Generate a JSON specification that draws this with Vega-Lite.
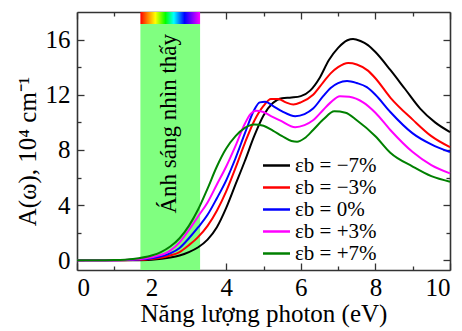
{
  "$schema": "https://vega.github.io/schema/vega-lite/v6.json",
  "autosize": {"type": "none"},
  "padding": {"left": 77, "top": 12, "right": 12, "bottom": 61},
  "width": 373,
  "height": 258,
  "config": {
    "view": {"stroke": null},
    "font": "Liberation Serif",
    "axis": {
      "grid": false,
      "labelFont": "Liberation Serif",
      "labelFontSize": 25,
      "labelColor": "black",
      "titleFont": "Liberation Serif",
      "titleFontSize": 24,
      "titleFontWeight": "normal",
      "titleColor": "black",
      "tickColor": "#333",
      "tickWidth": 1.3,
      "domainColor": "#333",
      "domainWidth": 1.6,
      "zindex": 1
    },
    "legend": {
      "labelFont": "Liberation Serif",
      "labelFontSize": 21,
      "labelColor": "black"
    }
  },
  "layer": [
    {
      "data": {"values": [{"e1": 1.7, "e2": 3.3, "a1": -0.7, "a2": 17.13}]},
      "mark": {"type": "rect", "color": "#80ff80"},
      "encoding": {
        "x": {"field": "e1", "type": "quantitative", "scale": {"domain": [0, 10], "nice": false},
          "axis": {"orient": "bottom", "values": [0, 2, 4, 6, 8, 10], "tickSize": -7, "labelPadding": 12, "title": "Năng lượng photon (eV)", "titleFontSize": 25, "titlePadding": 1, "domain": true}},
        "x2": {"field": "e2"},
        "y": {"field": "a1", "type": "quantitative", "scale": {"domain": [-0.7, 18], "nice": false, "zero": false},
          "axis": {"orient": "left", "values": [0, 4, 8, 12, 16], "tickSize": -7, "labelPadding": 14, "title": "A(ω), 10⁴ cm⁻¹", "titleFontSize": 25, "titlePadding": 5, "titleY": 139, "domain": true}},
        "y2": {"field": "a2"}
      }
    },
    {
      "data": {"values": [{"e1": 1.7, "e2": 3.3, "a1": 17.13, "a2": 18}]},
      "mark": {"type": "rect", "color": {"gradient": "linear", "x1": 0, "y1": 0, "x2": 1, "y2": 0,
        "stops": [
          {"offset": 0, "color": "#ff0000"},
          {"offset": 0.12, "color": "#ff8000"},
          {"offset": 0.25, "color": "#ffff00"},
          {"offset": 0.42, "color": "#00ff00"},
          {"offset": 0.56, "color": "#00ffff"},
          {"offset": 0.74, "color": "#0000ff"},
          {"offset": 0.87, "color": "#8000ff"},
          {"offset": 1, "color": "#ff00ff"}
        ]}},
      "encoding": {
        "x": {"field": "e1", "type": "quantitative", "scale": {"domain": [0, 10], "nice": false},
          "axis": {"orient": "top", "values": [0, 2, 4, 6, 8, 10], "tickSize": -7, "labels": false, "title": null, "domain": true}},
        "x2": {"field": "e2"},
        "y": {"field": "a1", "type": "quantitative", "scale": {"domain": [-0.7, 18], "nice": false, "zero": false},
          "axis": {"orient": "right", "values": [0, 4, 8, 12, 16], "tickSize": -7, "labels": false, "title": null, "domain": true}},
        "y2": {"field": "a2"}
      }
    },
    {
      "data": {"values": [
        {"s": "εb = −7%", "e": 0, "a": 0}, {"s": "εb = −7%", "e": 1, "a": 0}, {"s": "εb = −7%", "e": 1.5, "a": 0.01}, {"s": "εb = −7%", "e": 2, "a": 0.05}, {"s": "εb = −7%", "e": 2.5, "a": 0.2}, {"s": "εb = −7%", "e": 2.75, "a": 0.35}, {"s": "εb = −7%", "e": 3, "a": 0.6}, {"s": "εb = −7%", "e": 3.25, "a": 0.95}, {"s": "εb = −7%", "e": 3.5, "a": 1.5}, {"s": "εb = −7%", "e": 3.75, "a": 2.4}, {"s": "εb = −7%", "e": 4, "a": 3.8}, {"s": "εb = −7%", "e": 4.25, "a": 5.5}, {"s": "εb = −7%", "e": 4.5, "a": 7.2}, {"s": "εb = −7%", "e": 4.75, "a": 9.0}, {"s": "εb = −7%", "e": 5, "a": 10.5}, {"s": "εb = −7%", "e": 5.25, "a": 11.4}, {"s": "εb = −7%", "e": 5.5, "a": 11.75}, {"s": "εb = −7%", "e": 5.75, "a": 11.8}, {"s": "εb = −7%", "e": 6, "a": 11.9}, {"s": "εb = −7%", "e": 6.25, "a": 12.3}, {"s": "εb = −7%", "e": 6.5, "a": 13.2}, {"s": "εb = −7%", "e": 6.75, "a": 14.5}, {"s": "εb = −7%", "e": 7, "a": 15.4}, {"s": "εb = −7%", "e": 7.25, "a": 15.95}, {"s": "εb = −7%", "e": 7.4, "a": 16.05}, {"s": "εb = −7%", "e": 7.6, "a": 15.9}, {"s": "εb = −7%", "e": 7.8, "a": 15.6}, {"s": "εb = −7%", "e": 8, "a": 15.1}, {"s": "εb = −7%", "e": 8.4, "a": 13.8}, {"s": "εb = −7%", "e": 8.8, "a": 12.4}, {"s": "εb = −7%", "e": 9.2, "a": 11.0}, {"s": "εb = −7%", "e": 9.6, "a": 10.0}, {"s": "εb = −7%", "e": 10, "a": 9.3},
        {"s": "εb = −3%", "e": 0, "a": 0}, {"s": "εb = −3%", "e": 1, "a": 0}, {"s": "εb = −3%", "e": 1.5, "a": 0.02}, {"s": "εb = −3%", "e": 2, "a": 0.1}, {"s": "εb = −3%", "e": 2.5, "a": 0.35}, {"s": "εb = −3%", "e": 2.75, "a": 0.6}, {"s": "εb = −3%", "e": 3, "a": 1.1}, {"s": "εb = −3%", "e": 3.25, "a": 1.7}, {"s": "εb = −3%", "e": 3.5, "a": 2.5}, {"s": "εb = −3%", "e": 3.75, "a": 3.6}, {"s": "εb = −3%", "e": 4, "a": 5.0}, {"s": "εb = −3%", "e": 4.25, "a": 6.7}, {"s": "εb = −3%", "e": 4.5, "a": 8.5}, {"s": "εb = −3%", "e": 4.75, "a": 10.1}, {"s": "εb = −3%", "e": 5, "a": 11.2}, {"s": "εb = −3%", "e": 5.2, "a": 11.7}, {"s": "εb = −3%", "e": 5.4, "a": 11.7}, {"s": "εb = −3%", "e": 5.6, "a": 11.45}, {"s": "εb = −3%", "e": 5.8, "a": 11.3}, {"s": "εb = −3%", "e": 6, "a": 11.45}, {"s": "εb = −3%", "e": 6.33, "a": 12.0}, {"s": "εb = −3%", "e": 6.6, "a": 12.9}, {"s": "εb = −3%", "e": 6.8, "a": 13.55}, {"s": "εb = −3%", "e": 7, "a": 14.0}, {"s": "εb = −3%", "e": 7.27, "a": 14.3}, {"s": "εb = −3%", "e": 7.5, "a": 14.2}, {"s": "εb = −3%", "e": 7.8, "a": 13.75}, {"s": "εb = −3%", "e": 8, "a": 13.2}, {"s": "εb = −3%", "e": 8.4, "a": 11.8}, {"s": "εb = −3%", "e": 9, "a": 10.2}, {"s": "εb = −3%", "e": 9.5, "a": 9.0}, {"s": "εb = −3%", "e": 10, "a": 8.2},
        {"s": "εb = 0%", "e": 0, "a": 0}, {"s": "εb = 0%", "e": 1, "a": 0.01}, {"s": "εb = 0%", "e": 1.5, "a": 0.04}, {"s": "εb = 0%", "e": 2, "a": 0.15}, {"s": "εb = 0%", "e": 2.5, "a": 0.5}, {"s": "εb = 0%", "e": 2.75, "a": 0.9}, {"s": "εb = 0%", "e": 3, "a": 1.6}, {"s": "εb = 0%", "e": 3.25, "a": 2.4}, {"s": "εb = 0%", "e": 3.5, "a": 3.3}, {"s": "εb = 0%", "e": 3.75, "a": 4.5}, {"s": "εb = 0%", "e": 4, "a": 5.8}, {"s": "εb = 0%", "e": 4.25, "a": 7.4}, {"s": "εb = 0%", "e": 4.5, "a": 9.2}, {"s": "εb = 0%", "e": 4.75, "a": 10.9}, {"s": "εb = 0%", "e": 4.9, "a": 11.45}, {"s": "εb = 0%", "e": 5.05, "a": 11.5}, {"s": "εb = 0%", "e": 5.25, "a": 11.2}, {"s": "εb = 0%", "e": 5.5, "a": 10.8}, {"s": "εb = 0%", "e": 5.85, "a": 10.45}, {"s": "εb = 0%", "e": 6.1, "a": 10.6}, {"s": "εb = 0%", "e": 6.33, "a": 11.0}, {"s": "εb = 0%", "e": 6.6, "a": 11.9}, {"s": "εb = 0%", "e": 6.8, "a": 12.5}, {"s": "εb = 0%", "e": 7, "a": 12.85}, {"s": "εb = 0%", "e": 7.24, "a": 13.0}, {"s": "εb = 0%", "e": 7.5, "a": 12.85}, {"s": "εb = 0%", "e": 7.77, "a": 12.55}, {"s": "εb = 0%", "e": 8, "a": 12.0}, {"s": "εb = 0%", "e": 8.4, "a": 10.75}, {"s": "εb = 0%", "e": 9, "a": 9.2}, {"s": "εb = 0%", "e": 9.5, "a": 8.4}, {"s": "εb = 0%", "e": 10, "a": 7.85},
        {"s": "εb = +3%", "e": 0, "a": 0}, {"s": "εb = +3%", "e": 1, "a": 0.01}, {"s": "εb = +3%", "e": 1.5, "a": 0.06}, {"s": "εb = +3%", "e": 2, "a": 0.22}, {"s": "εb = +3%", "e": 2.5, "a": 0.7}, {"s": "εb = +3%", "e": 2.75, "a": 1.3}, {"s": "εb = +3%", "e": 3, "a": 2.2}, {"s": "εb = +3%", "e": 3.25, "a": 3.2}, {"s": "εb = +3%", "e": 3.5, "a": 4.2}, {"s": "εb = +3%", "e": 3.75, "a": 5.5}, {"s": "εb = +3%", "e": 4, "a": 6.8}, {"s": "εb = +3%", "e": 4.25, "a": 8.3}, {"s": "εb = +3%", "e": 4.5, "a": 9.9}, {"s": "εb = +3%", "e": 4.65, "a": 10.6}, {"s": "εb = +3%", "e": 4.8, "a": 10.85}, {"s": "εb = +3%", "e": 5, "a": 10.75}, {"s": "εb = +3%", "e": 5.2, "a": 10.45}, {"s": "εb = +3%", "e": 5.44, "a": 10.15}, {"s": "εb = +3%", "e": 5.85, "a": 9.65}, {"s": "εb = +3%", "e": 6.1, "a": 9.8}, {"s": "εb = +3%", "e": 6.33, "a": 10.15}, {"s": "εb = +3%", "e": 6.6, "a": 10.9}, {"s": "εb = +3%", "e": 6.8, "a": 11.45}, {"s": "εb = +3%", "e": 7.05, "a": 11.9}, {"s": "εb = +3%", "e": 7.3, "a": 11.85}, {"s": "εb = +3%", "e": 7.67, "a": 11.45}, {"s": "εb = +3%", "e": 8, "a": 10.7}, {"s": "εb = +3%", "e": 8.4, "a": 9.45}, {"s": "εb = +3%", "e": 9, "a": 7.85}, {"s": "εb = +3%", "e": 9.5, "a": 6.9}, {"s": "εb = +3%", "e": 10, "a": 6.3},
        {"s": "εb = +7%", "e": 0, "a": 0}, {"s": "εb = +7%", "e": 0.5, "a": 0}, {"s": "εb = +7%", "e": 1, "a": 0.02}, {"s": "εb = +7%", "e": 1.5, "a": 0.1}, {"s": "εb = +7%", "e": 2, "a": 0.35}, {"s": "εb = +7%", "e": 2.25, "a": 0.6}, {"s": "εb = +7%", "e": 2.5, "a": 1.0}, {"s": "εb = +7%", "e": 2.75, "a": 1.6}, {"s": "εb = +7%", "e": 3, "a": 2.5}, {"s": "εb = +7%", "e": 3.25, "a": 3.7}, {"s": "εb = +7%", "e": 3.5, "a": 5.2}, {"s": "εb = +7%", "e": 3.75, "a": 6.8}, {"s": "εb = +7%", "e": 4, "a": 8.1}, {"s": "εb = +7%", "e": 4.25, "a": 9.0}, {"s": "εb = +7%", "e": 4.5, "a": 9.6}, {"s": "εb = +7%", "e": 4.75, "a": 9.85}, {"s": "εb = +7%", "e": 5, "a": 9.75}, {"s": "εb = +7%", "e": 5.25, "a": 9.4}, {"s": "εb = +7%", "e": 5.5, "a": 9.0}, {"s": "εb = +7%", "e": 5.75, "a": 8.65}, {"s": "εb = +7%", "e": 5.9, "a": 8.6}, {"s": "εb = +7%", "e": 6.1, "a": 8.85}, {"s": "εb = +7%", "e": 6.33, "a": 9.45}, {"s": "εb = +7%", "e": 6.6, "a": 10.2}, {"s": "εb = +7%", "e": 6.9, "a": 10.8}, {"s": "εb = +7%", "e": 7.2, "a": 10.7}, {"s": "εb = +7%", "e": 7.5, "a": 10.15}, {"s": "εb = +7%", "e": 8, "a": 9.0}, {"s": "εb = +7%", "e": 8.4, "a": 7.8}, {"s": "εb = +7%", "e": 9, "a": 6.8}, {"s": "εb = +7%", "e": 9.5, "a": 6.1}, {"s": "εb = +7%", "e": 10, "a": 5.7}
      ]},
      "mark": {"type": "line", "strokeWidth": 2, "interpolate": "monotone"},
      "encoding": {
        "x": {"field": "e", "type": "quantitative", "scale": {"domain": [0, 10], "nice": false},
          "axis": {"orient": "bottom", "values": [1, 3, 5, 7, 9], "tickSize": -4, "labels": false, "title": null, "domain": false}},
        "y": {"field": "a", "type": "quantitative", "scale": {"domain": [-0.7, 18], "nice": false, "zero": false},
          "axis": {"orient": "left", "values": [2, 6, 10, 14], "tickSize": -4, "labels": false, "title": null, "domain": false}},
        "color": {"field": "s", "type": "nominal",
          "scale": {"domain": ["εb = −7%", "εb = −3%", "εb = 0%", "εb = +3%", "εb = +7%"], "range": ["#000000", "#ff0000", "#0000ff", "#ff00ff", "#008000"]},
          "legend": {"title": null, "orient": "none", "legendX": 188, "legendY": 142, "symbolType": "M-1.35,0H1.35", "symbolSize": 400, "symbolStrokeWidth": 2.5, "symbolFillColor": "transparent", "labelOffset": 7, "rowPadding": -3, "labelFont": "Liberation Serif", "labelFontSize": 21}}
      }
    },
    {
      "data": {"values": [{"e": 2.47, "a": 9.9, "t": "Ánh sáng nhìn thấy"}]},
      "mark": {"type": "text", "angle": 270, "fontSize": 23, "font": "Liberation Serif", "color": "black", "align": "center", "baseline": "middle"},
      "encoding": {
        "x": {"field": "e", "type": "quantitative", "scale": {"domain": [0, 10], "nice": false},
          "axis": {"orient": "top", "values": [1, 3, 5, 7, 9], "tickSize": -4, "labels": false, "title": null, "domain": false}},
        "y": {"field": "a", "type": "quantitative", "scale": {"domain": [-0.7, 18], "nice": false, "zero": false},
          "axis": {"orient": "right", "values": [2, 6, 10, 14], "tickSize": -4, "labels": false, "title": null, "domain": false}},
        "text": {"field": "t", "type": "nominal"}
      }
    }
  ],
  "resolve": {"axis": {"x": "independent", "y": "independent"}}
}
